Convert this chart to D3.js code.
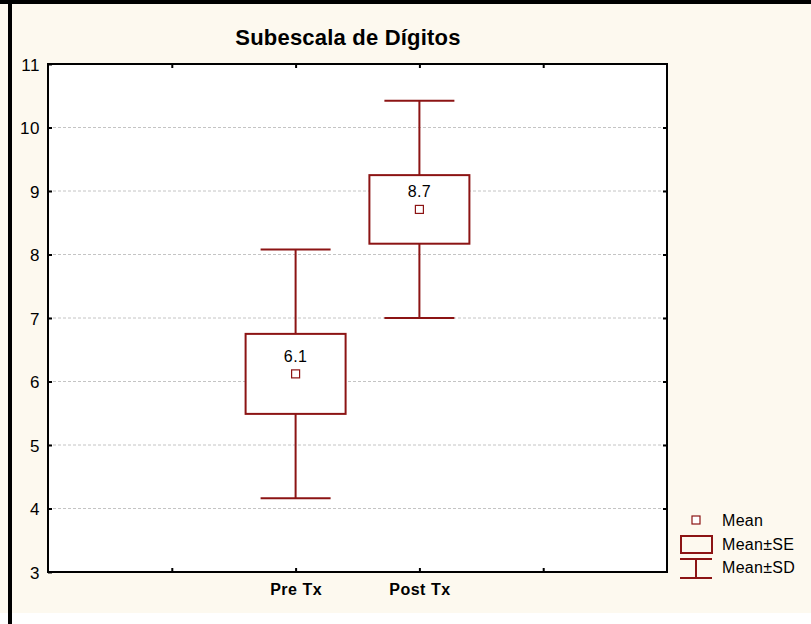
<!DOCTYPE html>
<html>
<head>
<meta charset="utf-8">
<script src="https://cdn.jsdelivr.net/npm/d3@7"></script>
<style>
  html, body { margin: 0; padding: 0; background: #ffffff; }
  svg { display: block; }
  text { font-family: "Liberation Sans", Arial, sans-serif; }
</style>
</head>
<body>
<svg id="chart" width="811" height="624"></svg>
<script>
// Subescala de Dígitos: mean, standard error and standard deviation per phase
const categories = ["Pre Tx", "Post Tx"];
const means = [6.12, 8.71];
const stdErrors = [0.63, 0.54];
const stdDevs = [1.96, 1.71];
const yTicks = [3, 4, 5, 6, 7, 8, 9, 10, 11];
const legendLabels = ["Mean", "Mean±SE", "Mean±SD"];

const W = 811, H = 624;
const plot = { left: 48, right: 667, top: 64, bottom: 572 };
const RED = "#8c1414";

const svg = d3.select("#chart");

// page background and frame
svg.append("rect").attr("x", 0).attr("y", 0).attr("width", W).attr("height", H).attr("fill", "#ffffff");
svg.append("rect").attr("x", 0).attr("y", 0).attr("width", W).attr("height", 613).attr("fill", "#fdf9ef");
svg.append("rect").attr("x", 0).attr("y", 0).attr("width", W).attr("height", 4).attr("fill", "#000");
svg.append("rect").attr("x", 8).attr("y", 0).attr("width", 4).attr("height", H).attr("fill", "#000");

// plot area
svg.append("rect")
  .attr("x", plot.left).attr("y", plot.top)
  .attr("width", plot.right - plot.left).attr("height", plot.bottom - plot.top)
  .attr("fill", "#ffffff");

// categories sit at positions 2 and 3 of a 0..5 axis
const x = d3.scaleLinear().domain([0, 5]).range([plot.left, plot.right]);
const pos = i => i + 2;
const y = d3.scaleLinear().domain([3, 11]).range([plot.bottom, plot.top]);

// horizontal grid
svg.append("g").selectAll("line")
  .data(yTicks.filter(t => t > 3 && t < 11))
  .join("line")
  .attr("x1", plot.left).attr("x2", plot.right)
  .attr("y1", d => y(d)).attr("y2", d => y(d))
  .attr("stroke", "#c4c4c4").attr("stroke-width", 1)
  .attr("stroke-dasharray", "3,2");

// axes with inward ticks
const axisLeft = d3.axisLeft(y).tickValues(yTicks).tickSizeInner(-4).tickSizeOuter(0).tickPadding(8);
const gL = svg.append("g").attr("transform", `translate(${plot.left},0)`).call(axisLeft);
gL.selectAll("text").attr("font-size", 17).attr("letter-spacing", 0.6).attr("fill", "#000").attr("dy", "0.36em");
gL.select(".domain").remove();

const axisRight = d3.axisRight(y).tickValues(yTicks.filter(t => t > 3 && t < 11)).tickSizeInner(-4).tickSizeOuter(0).tickFormat("");
const gR = svg.append("g").attr("transform", `translate(${plot.right},0)`).call(axisRight);
gR.select(".domain").remove();

const xTicks = [1, 2, 3, 4];
const axisBottom = d3.axisBottom(x).tickValues(xTicks).tickSizeInner(-4).tickSizeOuter(0).tickPadding(12)
  .tickFormat(d => categories[d - 2] || "");
const gB = svg.append("g").attr("transform", `translate(0,${plot.bottom})`).call(axisBottom);
gB.selectAll("text").attr("font-size", 16).attr("font-weight", "bold").attr("fill", "#000").attr("letter-spacing", 0.5);
gB.select(".domain").remove();

const axisTop = d3.axisTop(x).tickValues(xTicks).tickSizeInner(-4).tickSizeOuter(0).tickFormat("");
const gT = svg.append("g").attr("transform", `translate(0,${plot.top})`).call(axisTop);
gT.select(".domain").remove();

svg.selectAll(".tick line").attr("stroke", "#000").attr("stroke-width", 2);

// plot frame
svg.append("rect")
  .attr("x", plot.left).attr("y", plot.top)
  .attr("width", plot.right - plot.left).attr("height", plot.bottom - plot.top)
  .attr("fill", "none").attr("stroke", "#000").attr("stroke-width", 2);

// box-whisker marks
const boxHalf = 50, capHalf = 35;
const groups = svg.append("g").selectAll("g")
  .data(categories.map((c, i) => ({ c, i, m: means[i], se: stdErrors[i], sd: stdDevs[i] })))
  .join("g");

groups.append("line") // whisker stem
  .attr("x1", d => x(pos(d.i))).attr("x2", d => x(pos(d.i)))
  .attr("y1", d => y(d.m + d.sd)).attr("y2", d => y(d.m - d.sd))
  .attr("stroke", RED).attr("stroke-width", 2);
groups.selectAll(".cap")
  .data(d => [d.m + d.sd, d.m - d.sd].map(v => ({ v, i: d.i })))
  .join("line").attr("class", "cap")
  .attr("x1", d => x(pos(d.i)) - capHalf).attr("x2", d => x(pos(d.i)) + capHalf)
  .attr("y1", d => y(d.v)).attr("y2", d => y(d.v))
  .attr("stroke", RED).attr("stroke-width", 2);
groups.append("rect") // SE box
  .attr("x", d => x(pos(d.i)) - boxHalf).attr("width", boxHalf * 2)
  .attr("y", d => y(d.m + d.se)).attr("height", d => y(d.m - d.se) - y(d.m + d.se))
  .attr("fill", "#ffffff").attr("stroke", RED).attr("stroke-width", 2);
groups.append("rect") // mean marker
  .attr("x", d => x(pos(d.i)) - 4).attr("y", d => y(d.m) - 4)
  .attr("width", 8).attr("height", 8)
  .attr("fill", "#ffffff").attr("stroke", RED).attr("stroke-width", 1.2);
groups.append("text") // mean value
  .attr("x", d => x(pos(d.i))).attr("y", d => y(d.m) - 12)
  .attr("text-anchor", "middle").attr("font-size", 16).attr("letter-spacing", 0.4).attr("fill", "#000")
  .text(d => d3.format(".1f")(d.m));

// title
svg.append("text")
  .attr("x", 348).attr("y", 45).attr("text-anchor", "middle")
  .attr("font-size", 22).attr("font-weight", "bold").attr("letter-spacing", 0.2).attr("fill", "#000")
  .text("Subescala de Dígitos");

// legend
const lg = svg.append("g");
lg.append("rect").attr("x", 692).attr("y", 516).attr("width", 8).attr("height", 8)
  .attr("fill", "#fff").attr("stroke", RED).attr("stroke-width", 1.2);
lg.append("rect").attr("x", 681).attr("y", 536).attr("width", 31).attr("height", 17)
  .attr("fill", "none").attr("stroke", RED).attr("stroke-width", 2);
lg.append("line").attr("x1", 680).attr("x2", 712).attr("y1", 559).attr("y2", 559).attr("stroke", RED).attr("stroke-width", 2);
lg.append("line").attr("x1", 680).attr("x2", 712).attr("y1", 578).attr("y2", 578).attr("stroke", RED).attr("stroke-width", 2);
lg.append("line").attr("x1", 696).attr("x2", 696).attr("y1", 559).attr("y2", 578).attr("stroke", RED).attr("stroke-width", 2);
lg.selectAll("text.lab").data(legendLabels).join("text").attr("class", "lab")
  .attr("x", 722).attr("y", (d, i) => 526 + i * 23.5)
  .attr("font-size", 16).attr("letter-spacing", 0.3).attr("fill", "#000").text(d => d);
</script>
</body>
</html>
